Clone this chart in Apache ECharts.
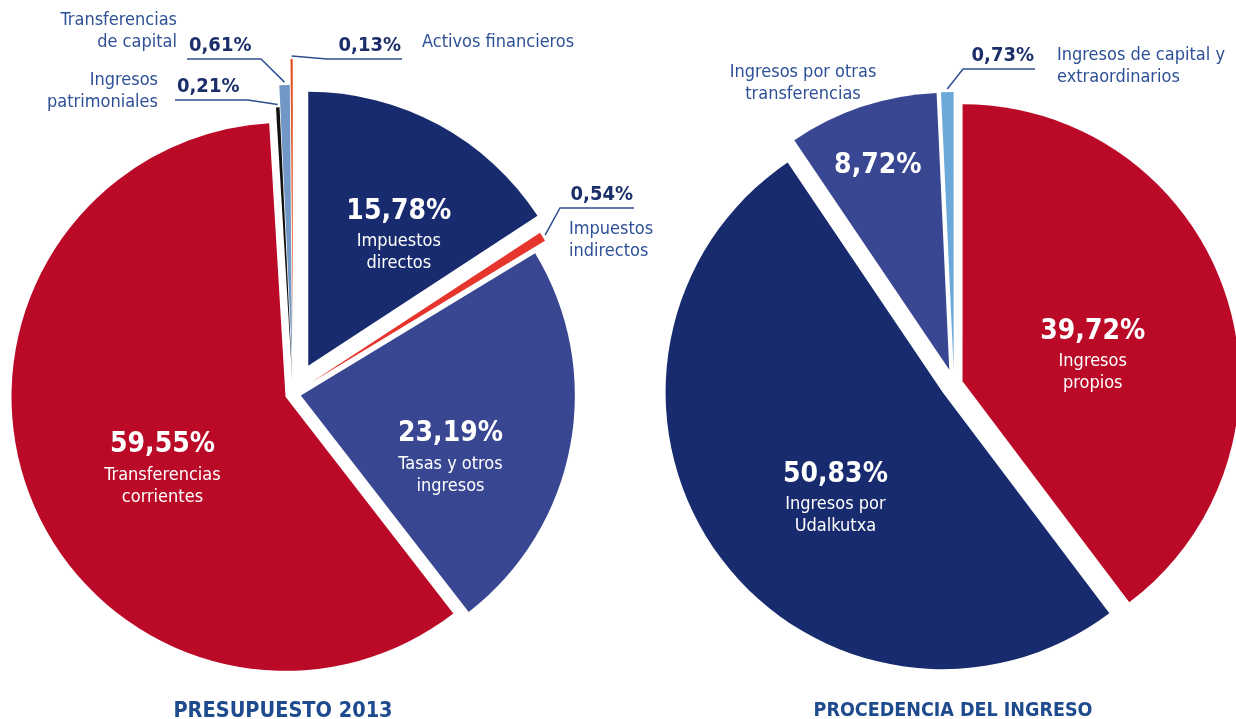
<!DOCTYPE html>
<html>
<head>
<meta charset="utf-8">
<title>Presupuesto 2013</title>
<script src="https://cdn.jsdelivr.net/npm/echarts@6/dist/echarts.min.js"></script>
<style>
	html, body { margin: 0; padding: 0; background: #fff; }
	#main { width: 1236px; height: 719px; }
</style>
</head>
<body>
<div id="main"></div>
<script>
	// datos
	var leftNames = ['Impuestos\ndirectos', 'Impuestos\nindirectos', 'Tasas y otros\ningresos', 'Transferencias\ncorrientes', 'Ingresos\npatrimoniales', 'Transferencias\nde capital', 'Activos financieros'];
	var leftValues = [15.78, 0.54, 23.19, 59.55, 0.21, 0.61, 0.13];
	var rightNames = ['Ingresos\npropios', 'Ingresos por\nUdalkutxa', 'Ingresos por otras\ntransferencias', 'Ingresos de capital y\nextraordinarios'];
	var rightValues = [39.72, 50.83, 8.72, 0.73];
	var titles = ['PRESUPUESTO 2013', 'PROCEDENCIA DEL INGRESO'];

	// estilos
	var FONT = "'DejaVu Sans Condensed', 'Liberation Sans Narrow', sans-serif";
	var leftColors = ['#172b6e', '#e5352c', '#394793', '#bb0a28', '#111111', '#7097c5', '#e4501f'];
	var rightColors = ['#bb0a28', '#172b6e', '#394793', '#6aa9da'];
	var leftExplode = [32, 21, 8, 8, 13, 35, 61];
	var rightExplode = [9, 14, 15, 15];
	// in = porcentaje + nombre dentro, pct = solo porcentaje, out = porcentaje fuera con linea
	var leftModes = ['in', 'out', 'in', 'in', 'out', 'out', 'out'];
	var rightModes = ['in', 'in', 'pct', 'out'];
	var leftNudge = [[24, -9], null, [12, 35], [8, 21], null, null, null];
	var rightNudge = [[-4, 17], [8, 22], [-27, -70], null];
	var leftLead = [null, {elbow: [560, 208], end: [634, 208]}, null, null,
		{elbow: [248, 100], end: [175, 100]}, {elbow: [261, 59], end: [187, 59]}, {elbow: [327, 59], end: [402, 59]}];
	var rightLead = [null, null, null, {elbow: [963, 69], end: [1035, 69]}];
	// nombres fuera del pastel: [x, y primera linea, alineacion]
	var leftNamePos = [null, [569, 229, 'left'], null, null, [158, 80, 'right'], [177, 20, 'right'], [422, 42, 'left']];
	var rightNamePos = [null, null, [803, 72, 'center'], [1057, 55, 'left']];

	function fmt(v) {
		return v.toFixed(2).replace('.', ',') + '%';
	}

	function buildPie(names, values, colors, explode, modes, center, radius, nudge, lead) {
		var total = 0;
		values.forEach(function(v) { total += v; });
		var series = [];
		var acc = 0;
		values.forEach(function(v, i) {
			var mid = (acc + v / 2) / total * 2 * Math.PI;
			acc += v;
			var cx = center[0] + explode[i] * Math.sin(mid);
			var cy = center[1] - explode[i] * Math.cos(mid);
			var tip = [cx + (radius + 3) * Math.sin(mid), cy - (radius + 3) * Math.cos(mid)];
			var mode = modes[i];
			var label;
			if(mode === 'out') {
				label = {
					position: 'outside',
					formatter: function(p) { return '{o|' + fmt(p.value) + '}'; },
					rich: {o: {fontFamily: FONT, fontSize: 20, fontWeight: 'bold', color: '#1c2f6b'}}
				};
			} else {
				label = {
					position: 'inside',
					formatter: function(p) {
						var s = '{p|' + fmt(p.value) + '}';
						if(mode === 'in') s += '\n{n|' + p.name.split('\n').join('}\n{n|') + '}';
						return s;
					},
					rich: {
						p: {fontFamily: FONT, fontSize: 28, fontWeight: 'bold', color: '#fff', lineHeight: 38},
						n: {fontFamily: FONT, fontSize: 18, color: '#fff', lineHeight: 22}
					}
				};
			}
			series.push({
				type: 'pie',
				center: [cx, cy],
				radius: radius,
				startAngle: 90,
				clockwise: true,
				silent: true,
				animation: false,
				avoidLabelOverlap: false,
				itemStyle: {borderWidth: 0},
				label: label,
				labelLine: {show: mode === 'out', lineStyle: {color: '#2d4f90', width: 1.5}},
				labelLayout: function(p) {
					if(p.dataIndex !== i) return {};
					if(mode !== 'out') return {dx: nudge[i][0], dy: nudge[i][1]};
					var L = lead[i];
					var toLeft = L.end[0] < L.elbow[0];
					return {
						x: toLeft ? L.end[0] + 2 : L.end[0] - 1,
						y: L.end[1] - 3,
						align: toLeft ? 'left' : 'right',
						verticalAlign: 'bottom',
						labelLinePoints: [tip, L.elbow, L.end]
					};
				},
				data: values.map(function(w, j) {
					return {
						value: w,
						name: names[j],
						itemStyle: {color: j === i ? colors[j] : 'rgba(0,0,0,0)'},
						label: {show: j === i},
						labelLine: {show: j === i && mode === 'out'}
					};
				})
			});
		});
		return series;
	}

	function buildNames(names, pos) {
		var els = [];
		pos.forEach(function(q, i) {
			if(!q) return;
			els.push({
				type: 'text',
				x: q[0],
				y: q[1] - 11,
				silent: true,
				style: {
					text: names[i],
					fill: '#2d5096',
					fontFamily: FONT,
					fontSize: 18,
					lineHeight: 22,
					align: q[2],
					verticalAlign: 'top'
				}
			});
		});
		return els;
	}

	var chart = echarts.init(document.getElementById('main'));
	var series = buildPie(leftNames, leftValues, leftColors, leftExplode, leftModes, [293, 394], 274, leftNudge, leftLead)
		.concat(buildPie(rightNames, rightValues, rightColors, rightExplode, rightModes, [954, 384], 277, rightNudge, rightLead));

	chart.setOption({
		backgroundColor: '#fff',
		animation: false,
		title: [{
			text: titles[0], left: 283, top: 700, textAlign: 'center', padding: 0,
			textStyle: {fontFamily: FONT, fontSize: 21.5, fontWeight: 'bold', color: '#1e4a8e'}
		}, {
			text: titles[1], left: 953, top: 701, textAlign: 'center', padding: 0,
			textStyle: {fontFamily: FONT, fontSize: 19.5, fontWeight: 'bold', color: '#1e4a8e'}
		}],
		graphic: {elements: buildNames(leftNames, leftNamePos).concat(buildNames(rightNames, rightNamePos))},
		series: series
	});
</script>
</body>
</html>
